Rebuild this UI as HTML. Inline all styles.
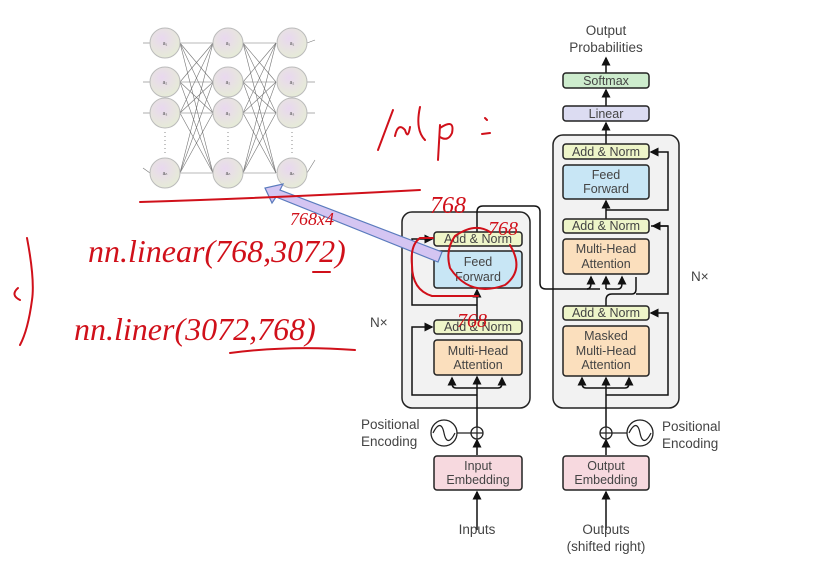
<!DOCTYPE html>
<html><head><meta charset="utf-8"><style>
html,body{margin:0;padding:0;background:#fff;}
svg{display:block;}
.t{font-family:"Liberation Sans",sans-serif;font-size:12.5px;fill:#444;text-anchor:middle;}
.l{font-family:"Liberation Sans",sans-serif;font-size:13.5px;fill:#444;}
.r{font-family:"Liberation Serif",serif;font-style:italic;fill:#d0101a;}
</style></head><body>
<svg width="822" height="583" viewBox="0 0 822 583" xmlns="http://www.w3.org/2000/svg">
<defs>
<marker id="a" markerWidth="6" markerHeight="6" refX="5" refY="3" orient="auto"><path d="M0,0 L6,3 L0,6 z" fill="#111"/></marker>
<radialGradient id="ng" cx="0.4" cy="0.35" r="0.7"><stop offset="0" stop-color="#e9d8ef"/><stop offset="1" stop-color="#e6ecd6"/></radialGradient>
</defs>
<rect width="822" height="583" fill="#fff"/>

<!-- neural net -->
<g stroke="#777" stroke-width="0.6">
<g id="c1">
<line x1="180" y1="43" x2="213" y2="43"/><line x1="180" y1="43" x2="213" y2="82"/><line x1="180" y1="43" x2="213" y2="113"/><line x1="180" y1="43" x2="213" y2="173"/>
<line x1="180" y1="82" x2="213" y2="43"/><line x1="180" y1="82" x2="213" y2="82"/><line x1="180" y1="82" x2="213" y2="113"/><line x1="180" y1="82" x2="213" y2="173"/>
<line x1="180" y1="113" x2="213" y2="43"/><line x1="180" y1="113" x2="213" y2="82"/><line x1="180" y1="113" x2="213" y2="113"/><line x1="180" y1="113" x2="213" y2="173"/>
<line x1="180" y1="173" x2="213" y2="43"/><line x1="180" y1="173" x2="213" y2="82"/><line x1="180" y1="173" x2="213" y2="113"/><line x1="180" y1="173" x2="213" y2="173"/>
</g>
<use href="#c1" transform="translate(63,0)"/>
<line x1="150" y1="43" x2="143" y2="43"/><line x1="150" y1="82" x2="143" y2="82"/><line x1="150" y1="113" x2="143" y2="113"/><line x1="150" y1="173" x2="143" y2="168"/>
<line x1="307" y1="43" x2="315" y2="40"/><line x1="307" y1="82" x2="315" y2="82"/><line x1="307" y1="113" x2="315" y2="113"/><line x1="307" y1="173" x2="315" y2="160"/>
</g>
<g fill="url(#ng)" stroke="#bbb" stroke-width="1">
<circle cx="165" cy="43" r="15"/><circle cx="165" cy="82" r="15"/><circle cx="165" cy="113" r="15"/><circle cx="165" cy="173" r="15"/>
<circle cx="228" cy="43" r="15"/><circle cx="228" cy="82" r="15"/><circle cx="228" cy="113" r="15"/><circle cx="228" cy="173" r="15"/>
<circle cx="292" cy="43" r="15"/><circle cx="292" cy="82" r="15"/><circle cx="292" cy="113" r="15"/><circle cx="292" cy="173" r="15"/>
</g>
<g font-family="Liberation Sans" font-size="5" fill="#555" text-anchor="middle">
<text x="165" y="45">a₁</text><text x="165" y="84">a₂</text><text x="165" y="115">a₃</text><text x="165" y="175">aₙ</text>
<text x="228" y="45">a₁</text><text x="228" y="84">a₂</text><text x="228" y="115">a₃</text><text x="228" y="175">aₙ</text>
<text x="292" y="45">a₁</text><text x="292" y="84">a₂</text><text x="292" y="115">a₃</text><text x="292" y="175">aₙ</text>
</g>
<g stroke="#888" stroke-dasharray="1,3"><line x1="165" y1="132" x2="165" y2="155"/><line x1="228" y1="132" x2="228" y2="155"/><line x1="292" y1="132" x2="292" y2="155"/></g>

<!-- encoder -->
<rect x="402" y="212" width="128" height="196" rx="10" fill="#f2f2f2" stroke="#222" stroke-width="1.5"/>
<!-- decoder -->
<rect x="553" y="135" width="126" height="273" rx="10" fill="#f2f2f2" stroke="#222" stroke-width="1.5"/>

<g stroke="#111" stroke-width="1.5" fill="none">
<!-- encoder flows -->
<line x1="477" y1="530" x2="477" y2="492" marker-end="url(#a)"/>
<line x1="477" y1="455" x2="477" y2="440" marker-end="url(#a)"/>
<line x1="477" y1="427" x2="477" y2="377" marker-end="url(#a)"/>
<path d="M477,395 H412 V327 H432" marker-end="url(#a)"/>
<path d="M477,388 H456 Q452,388 452,383 V378" marker-end="url(#a)"/>
<path d="M477,388 H498 Q502,388 502,383 V378" marker-end="url(#a)"/>
<line x1="477" y1="334" x2="477" y2="290" marker-end="url(#a)"/>
<path d="M477,305 H412 V239 H432" marker-end="url(#a)"/>
<path d="M477,232 V212 Q477,206 483,206 H534 Q540,206 540,212 V283 Q540,289 546,289 H600"/>
<path d="M587,289 Q591,289 591,283 V277" marker-end="url(#a)"/>
<path d="M606,289 V277" marker-end="url(#a)"/>
<path d="M606,289 H618 Q622,289 622,283 V277" marker-end="url(#a)"/>
<!-- decoder flows -->
<line x1="606" y1="530" x2="606" y2="492" marker-end="url(#a)"/>
<line x1="606" y1="455" x2="606" y2="440" marker-end="url(#a)"/>
<line x1="606" y1="427" x2="606" y2="378" marker-end="url(#a)"/>
<path d="M606,395 H668 V313 H651" marker-end="url(#a)"/>
<path d="M606,388 H586 Q582,388 582,383 V378" marker-end="url(#a)"/>
<path d="M606,388 H625 Q629,388 629,383 V378" marker-end="url(#a)"/>
<path d="M606,306 V300 Q606,294 612,294 H632 Q636,294 636,289 V277" />
<path d="M636,294 H668 V226 H651" />
<path d="M606,292 H668" stroke="none"/>
<path d="M668,226 H653" marker-end="url(#a)"/>
<line x1="606" y1="219" x2="606" y2="201" marker-end="url(#a)"/>
<path d="M606,210 H668 V152 H651" marker-end="url(#a)"/>
<line x1="606" y1="144" x2="606" y2="123" marker-end="url(#a)"/>
<line x1="606" y1="106" x2="606" y2="90" marker-end="url(#a)"/>
<line x1="606" y1="73" x2="606" y2="58" marker-end="url(#a)"/>
</g>

<!-- blocks -->
<g stroke="#222" stroke-width="1.5">
<rect x="434" y="232" width="88" height="14" rx="3" fill="#eef5c9"/>
<rect x="434" y="251" width="88" height="37" rx="3" fill="#c8e6f5"/>
<rect x="434" y="320" width="88" height="14" rx="3" fill="#eef5c9"/>
<rect x="434" y="340" width="88" height="35" rx="3" fill="#fbdfbd"/>
<rect x="434" y="456" width="88" height="34" rx="3" fill="#f7d9df"/>
<rect x="563" y="144" width="86" height="15" rx="3" fill="#eef5c9"/>
<rect x="563" y="165" width="86" height="34" rx="3" fill="#c8e6f5"/>
<rect x="563" y="219" width="86" height="14" rx="3" fill="#eef5c9"/>
<rect x="563" y="239" width="86" height="35" rx="3" fill="#fbdfbd"/>
<rect x="563" y="306" width="86" height="14" rx="3" fill="#eef5c9"/>
<rect x="563" y="326" width="86" height="50" rx="3" fill="#fbdfbd"/>
<rect x="563" y="456" width="86" height="34" rx="3" fill="#f7d9df"/>
<rect x="563" y="106" width="86" height="15" rx="3" fill="#dcdcf2"/>
<rect x="563" y="73" width="86" height="15" rx="3" fill="#cdeccd"/>
</g>
<!-- pos enc -->
<g stroke="#222" stroke-width="1.3" fill="#fff">
<circle cx="477" cy="433" r="6"/><circle cx="606" cy="433" r="6"/>
<circle cx="444" cy="433" r="13"/><circle cx="640" cy="433" r="13"/>
</g>
<g stroke="#222" stroke-width="1.2" fill="none">
<path d="M471,433 H483 M477,427 V439 M600,433 H612 M606,427 V439"/>
<path d="M457,433 H471 M612,433 H627"/>
<path d="M433,433 C438,423 442,423 444,433 C446,443 450,443 455,433"/>
<path d="M629,433 C634,423 638,423 640,433 C642,443 646,443 651,433"/>
</g>

<g class="t">
<text x="478" y="243">Add &amp; Norm</text>
<text x="478" y="266">Feed</text><text x="478" y="281">Forward</text>
<text x="478" y="331">Add &amp; Norm</text>
<text x="478" y="355">Multi-Head</text><text x="478" y="369">Attention</text>
<text x="478" y="470">Input</text><text x="478" y="484">Embedding</text>
<text x="606" y="156">Add &amp; Norm</text>
<text x="606" y="179">Feed</text><text x="606" y="193">Forward</text>
<text x="606" y="230">Add &amp; Norm</text>
<text x="606" y="253">Multi-Head</text><text x="606" y="268">Attention</text>
<text x="606" y="317">Add &amp; Norm</text>
<text x="606" y="340">Masked</text><text x="606" y="355">Multi-Head</text><text x="606" y="369">Attention</text>
<text x="606" y="470">Output</text><text x="606" y="484">Embedding</text>
<text x="606" y="118">Linear</text>
<text x="606" y="85">Softmax</text>
</g>
<g class="l">
<text x="606" y="35" text-anchor="middle">Output</text>
<text x="606" y="52" text-anchor="middle">Probabilities</text>
<text x="361" y="429">Positional</text><text x="361" y="446">Encoding</text>
<text x="662" y="431">Positional</text><text x="662" y="448">Encoding</text>
<text x="477" y="534" text-anchor="middle">Inputs</text>
<text x="606" y="534" text-anchor="middle">Outputs</text>
<text x="606" y="551" text-anchor="middle">(shifted right)</text>
<text x="370" y="327">N×</text>
<text x="691" y="281">N×</text>
</g>

<!-- purple arrow -->
<polygon points="438,262 442,252 280,190 283,184 265,188 272,203 276,197" fill="#d4c5f2" stroke="#5a7bbd" stroke-width="1.2"/>

<!-- red annotations -->
<g stroke="#d0101a" stroke-width="2" fill="none" stroke-linecap="round">
<path d="M140,202 Q270,198 420,190"/>
<path d="M27,238 Q35,280 32,300 Q28,330 20,345"/>
<path d="M20,300 Q10,295 18,288"/>
<path d="M490,232 Q475,222 455,236 Q445,250 450,268 Q470,298 505,285 Q525,270 510,245"/>
<path d="M433,238 H420 Q410,245 412,265 Q412,290 432,296 H478"/>
<path d="M230,353 Q290,345 355,350"/>
<path d="M313,272 H330"/>
<path d="M378,150 L393,110 M395,136 Q398,122 405,130 Q408,140 410,127 M420,107 Q415,130 425,140 M440,125 L438,160 M440,128 Q455,118 452,133 Q448,142 440,137 M485,118 L487,120 M482,134 L490,133"/>
</g>
<g class="r">
<text x="88" y="262" font-size="32">nn.linear(768,3072)</text>
<text x="74" y="340" font-size="32">nn.liner(3072,768)</text>
<text x="430" y="213" font-size="24">768</text>
<text x="488" y="235" font-size="20">768</text>
<text x="457" y="327" font-size="20">768</text>
<text x="290" y="225" font-size="18">768x4</text>
</g>
</svg>
</body></html>
